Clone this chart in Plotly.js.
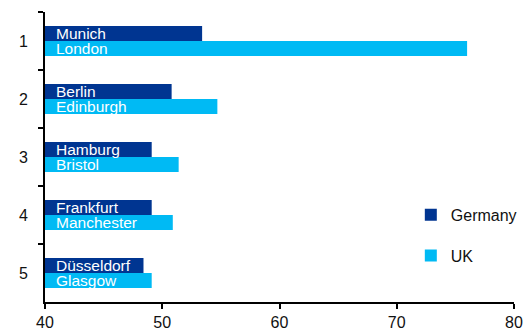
<!DOCTYPE html>
<html>
<head>
<meta charset="utf-8">
<script src="https://cdn.plot.ly/plotly-3.0.1.min.js"></script>
<style>
  html, body { margin: 0; padding: 0; background: #fff; }
  #chart { width: 528px; height: 334px; }
</style>
</head>
<body>
<div id="chart"></div>
<script>
// Rank of each city pair (1 = top)
const ranks = ['1', '2', '3', '4', '5'];

const germanCities = ['Munich', 'Berlin', 'Hamburg', 'Frankfurt', 'Düsseldorf'];
const germanyValues = [53.4, 50.8, 49.1, 49.1, 48.4];

const ukCities = ['London', 'Edinburgh', 'Bristol', 'Manchester', 'Glasgow'];
const ukValues = [76.0, 54.7, 51.4, 50.9, 49.1];

const xTicks = [40, 50, 60, 70, 80];

const COLOR_DE = '#003591';
const COLOR_UK = '#00BAF4';
const FONT = 'Arial, "Liberation Sans", sans-serif';

const traces = [
  {
    type: 'bar', orientation: 'h', name: 'Germany',
    y: ranks, x: germanyValues,
    marker: { color: COLOR_DE },
    hoverinfo: 'skip', legendgroup: 'de'
  },
  {
    type: 'bar', orientation: 'h', name: 'UK',
    y: ranks, x: ukValues,
    marker: { color: COLOR_UK },
    hoverinfo: 'skip', legendgroup: 'uk'
  }
];

// City names written in white at the start of each bar
// (category axes place annotations by category index)
const BAR_HALF = 7.5;
const annotations = [];
ranks.forEach((r, i) => {
  annotations.push({
    xref: 'x', yref: 'y', x: 40, y: i, xanchor: 'left', yanchor: 'middle',
    xshift: 9, yshift: BAR_HALF, showarrow: false,
    text: germanCities[i], font: { family: FONT, size: 15.5, color: '#ffffff' }
  });
  annotations.push({
    xref: 'x', yref: 'y', x: 40, y: i, xanchor: 'left', yanchor: 'middle',
    xshift: 9, yshift: -BAR_HALF, showarrow: false,
    text: ukCities[i], font: { family: FONT, size: 15.5, color: '#ffffff' }
  });
});

const layout = {
  width: 528, height: 334,
  margin: { l: 45, r: 14, t: 12, b: 32, autoexpand: false },
  paper_bgcolor: '#ffffff', plot_bgcolor: '#ffffff',
  font: { family: FONT, size: 16, color: '#111111' },
  barmode: 'group',
  bargap: 0.48, bargroupgap: 0,
  showlegend: true,
  legend: {
    x: 0.78, y: 0.23, xanchor: 'left', yanchor: 'middle',
    traceorder: 'grouped', tracegroupgap: 17,
    font: { family: FONT, size: 16, color: '#111111' },
    bgcolor: 'rgba(0,0,0,0)', itemwidth: 30
  },
  xaxis: {
    range: [40, 80], tickvals: xTicks, ticktext: xTicks.map(String),
    showgrid: false, zeroline: false,
    showline: true, linecolor: '#000000', linewidth: 2,
    ticks: 'outside', ticklen: 5, tickwidth: 2, tickcolor: '#000000',
    tickfont: { family: FONT, size: 16, color: '#111111' },
    fixedrange: true
  },
  yaxis: {
    type: 'category', categoryorder: 'array', categoryarray: ranks,
    range: [4.5, -0.5],
    showgrid: false, zeroline: false,
    showline: true, linecolor: '#000000', linewidth: 2,
    ticks: 'outside', tickson: 'boundaries', ticklen: 5, tickwidth: 2, tickcolor: '#000000',
    tickfont: { family: FONT, size: 16, color: '#111111' },
    ticklabelstandoff: 12,
    fixedrange: true
  },
  annotations: annotations
};

Plotly.newPlot('chart', traces, layout, { staticPlot: true, displayModeBar: false });
</script>
</body>
</html>
